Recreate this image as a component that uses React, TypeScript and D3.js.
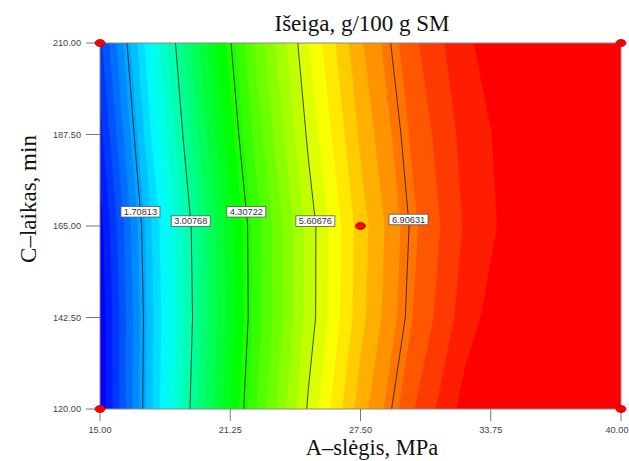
import * as d3 from "d3";

const width = 629;
const height = 461;
const margin = { top: 43, right: 8, bottom: 52, left: 100 };

// grid of the response surface: A (pressure) columns, C (time) rows from top to bottom
const gridA = [15, 17.5, 20, 22.5, 25, 27.5, 30, 32.5, 35, 37.5, 40];
const gridC = [210, 187.5, 165, 142.5, 120];

// yield, g/100 g SM, one array per C row
const yieldC210 = [0.94, 2.42, 3.73, 4.85, 5.8, 6.57, 7.15, 7.56, 7.79, 7.84, 7.71];
const yieldC187 = [0.72, 2.23, 3.55, 4.69, 5.65, 6.44, 7.04, 7.47, 7.72, 7.78, 7.67];
const yieldC165 = [0.51, 2.01, 3.34, 4.5, 5.49, 6.3, 6.95, 7.42, 7.71, 7.84, 7.79];
const yieldC142 = [0.44, 1.96, 3.31, 4.49, 5.49, 6.33, 7.0, 7.5, 7.83, 7.99, 7.98];
const yieldC120 = [0.42, 1.99, 3.39, 4.6, 5.64, 6.5, 7.18, 7.68, 8.0, 8.14, 8.11];

// labelled contour levels and the C value where each label sits
const levels = [1.70813, 3.00768, 4.30722, 5.60676, 6.90631];
const labelC = [168.5, 166.2, 168.5, 166.2, 166.6];

// design points
const designA = [15, 15, 40, 40, 27.5];
const designC = [120, 210, 120, 210, 165];

const xTicks = [15, 21.25, 27.5, 33.75, 40];
const yTicks = [120, 142.5, 165, 187.5, 210];

// colour ramp
const colorStops = [0.5, 2.35, 4.1, 5.95, 7.7];
const colorRamp = ["#0000ff", "#00ffff", "#00ff00", "#ffff00", "#ff0000"];

export default function App() {
  const nx = gridA.length;
  const ny = gridC.length;
  const values = [yieldC210, yieldC187, yieldC165, yieldC142, yieldC120].flat();

  const x = d3.scaleLinear().domain([15, 40]).range([margin.left, width - margin.right]);
  const y = d3.scaleLinear().domain([120, 210]).range([height - margin.bottom, margin.top]);

  // grid coordinate -> factor value (samples sit at i + 0.5)
  const gA = d3.scaleLinear().domain([0.5, nx - 0.5]).range([gridA[0], gridA[nx - 1]]);
  const gC = d3.scaleLinear().domain([0.5, ny - 0.5]).range([gridC[0], gridC[ny - 1]]);

  const path = d3.geoPath(
    d3.geoTransform({
      point(px, py) {
        this.stream.point(x(gA(px)), y(gC(py)));
      }
    })
  );

  const color = d3.scaleLinear().domain(colorStops).range(colorRamp).clamp(true);

  const step = 0.2;
  const fillThresholds = d3.range(0.2, 8.4, step);
  const bands = d3.contours().size([nx, ny]).thresholds(fillThresholds)(values);
  const lines = d3.contours().size([nx, ny]).thresholds(levels)(values);

  // A value where a contour crosses a given C
  function crossA(mp, c) {
    const cy = gC.invert(c);
    for (const poly of mp.coordinates)
      for (const ring of poly)
        for (let k = 1; k < ring.length; k++) {
          const [x0, y0] = ring[k - 1];
          const [x1, y1] = ring[k];
          if (y0 === y1 || (y0 - cy) * (y1 - cy) > 0) continue;
          const xi = x0 + ((cy - y0) / (y1 - y0)) * (x1 - x0);
          if (xi > 0.5 && xi < nx - 0.5) return gA(xi);
        }
    return null;
  }

  const left = margin.left;
  const top = margin.top;
  const right = width - margin.right;
  const bottom = height - margin.bottom;
  const fmt = d3.format(".2f");
  const sans = "Liberation Sans, Arial, sans-serif";
  const serif = "Liberation Serif, Times New Roman, serif";

  return (
    <svg
      width={width}
      height={height}
      style={{ position: "absolute", left: 0, top: 0, background: "#fff" }}
    >
      <defs>
        <clipPath id="plot">
          <rect x={left} y={top} width={right - left} height={bottom - top} />
        </clipPath>
      </defs>

      <g clipPath="url(#plot)">
        {bands.map((b, i) => (
          <path key={i} d={path(b)} fill={color(b.value + step / 2)} />
        ))}
        {lines.map((l, i) => (
          <path key={i} d={path(l)} fill="none" stroke="#1a1a1a" strokeOpacity={0.8} strokeWidth={1} />
        ))}
      </g>

      <rect x={left} y={top} width={right - left} height={bottom - top} fill="none" stroke="#8a8a8a" strokeWidth={1} />

      {/* contour labels */}
      {lines.map((l, i) => {
        const a = crossA(l, labelC[i]);
        if (a == null) return null;
        return (
          <g key={i} transform={`translate(${x(a)},${y(labelC[i])})`}>
            <rect x={-19.5} y={-5.3} width={39} height={10.6} fill="#fff" stroke="#555" strokeWidth={0.8} />
            <text y={3.3} textAnchor="middle" fontFamily={sans} fontSize={9.2} fill="#333">
              {levels[i].toFixed(5)}
            </text>
          </g>
        );
      })}

      {/* y axis */}
      <g fontFamily={sans} fontSize={9.2} fill="#444">
        {yTicks.map((t) => (
          <g key={t} transform={`translate(0,${y(t)})`}>
            <line x1={left - 14} x2={left} stroke="#777" />
            <text x={left - 19} dy="0.34em" textAnchor="end">
              {fmt(t)}
            </text>
          </g>
        ))}
      </g>

      {/* x axis */}
      <g fontFamily={sans} fontSize={9.2} fill="#444">
        {xTicks.map((t) => (
          <g key={t} transform={`translate(${Math.min(x(t), width - 12)},0)`}>
            <line x1={x(t) - Math.min(x(t), width - 12)} x2={x(t) - Math.min(x(t), width - 12)} y1={bottom} y2={bottom + 12} stroke="#777" />
            <text y={bottom + 24} textAnchor="middle">
              {fmt(t)}
            </text>
          </g>
        ))}
      </g>

      {/* design points */}
      {designA.map((a, i) => (
        <ellipse key={i} cx={x(a)} cy={y(designC[i])} rx={5} ry={3.5} fill="#ff0000" stroke="#b00000" strokeWidth={0.8} />
      ))}

      <text x={362} y={31} textAnchor="middle" fontFamily={serif} fontSize={23} fill="#111">
        Išeiga, g/100 g SM
      </text>
      <text x={372} y={455} textAnchor="middle" fontFamily={serif} fontSize={22.5} fill="#111">
        A–slėgis, MPa
      </text>
      <text transform="translate(36,199) rotate(-90)" textAnchor="middle" fontFamily={serif} fontSize={23} fill="#111">
        C–laikas, min
      </text>
    </svg>
  );
}
